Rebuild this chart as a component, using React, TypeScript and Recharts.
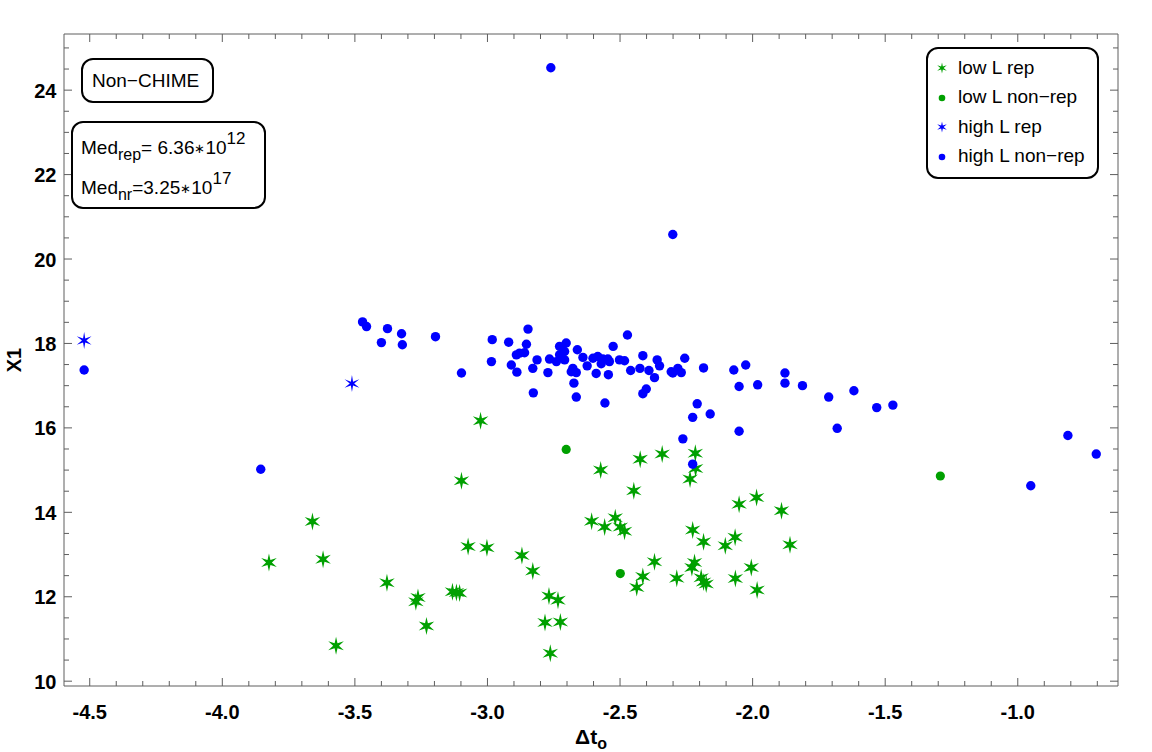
import React from 'react';
import { ScatterChart, Scatter, XAxis, YAxis, Legend } from 'recharts';

// low L rep (green stars)
const lowRepX = [
  -3.026, -3.098, -3.66, -3.824, -3.62, -3.379, -3.27, -3.262, -3.23, -3.571,
  -3.073, -3.002, -3.132, -3.117, -3.105, -2.87, -2.829, -2.768, -2.734, -2.783,
  -2.725, -2.763, -2.573, -2.424, -2.341, -2.216, -2.215, -2.236, -2.448, -2.051,
  -1.985, -1.891, -2.607, -2.558, -2.518, -2.499, -2.483, -2.226, -2.185, -2.103,
  -2.066, -1.859, -2.37, -2.414, -2.437, -2.286, -2.219, -2.229, -2.194, -2.185,
  -2.175, -2.065, -2.005, -1.983,
];
const lowRepY = [
  16.17, 14.75, 13.78, 12.81, 12.89, 12.33, 11.88, 11.98, 11.31, 10.84,
  13.19, 13.16, 12.12, 12.1, 12.09, 12.98, 12.61, 12.02, 11.92, 11.39,
  11.4, 10.66, 15.0, 15.26, 15.38, 15.4, 15.04, 14.79, 14.51, 14.19,
  14.35, 14.04, 13.79, 13.65, 13.87, 13.65, 13.55, 13.58, 13.3, 13.21,
  13.41, 13.23, 12.83, 12.48, 12.22, 12.44, 12.81, 12.69, 12.45, 12.35,
  12.3, 12.43, 12.69, 12.16,
];

// low L non-rep (green dots)
const lowNonRepX = [-2.703, -2.499, -1.292];
const lowNonRepY = [15.49, 12.55, 14.86];

// high L rep (blue stars)
const highRepX = [-4.521, -3.511];
const highRepY = [18.07, 17.05];

// high L non-rep (blue dots)
const highNonRepX = [
  -4.521, -3.855, -2.761, -2.301, -3.471, -3.456, -3.377, -3.324, -3.4, -3.321,
  -3.196, -3.098, -2.982, -2.985, -2.92, -2.847, -2.853, -2.891, -2.879, -2.86,
  -2.91, -2.889, -2.813, -2.829, -2.772, -2.827, -2.766, -2.728, -2.703, -2.709,
  -2.728, -2.709, -2.74, -2.661, -2.684, -2.665, -2.678, -2.674, -2.665, -2.64,
  -2.624, -2.602, -2.584, -2.565, -2.571, -2.546, -2.54, -2.59, -2.544, -2.557,
  -2.526, -2.502, -2.483, -2.472, -2.46, -2.425, -2.414, -2.391, -2.37, -2.36,
  -2.351, -2.414, -2.401, -2.307, -2.282, -2.269, -2.301, -2.256, -2.185, -2.209,
  -2.226, -2.16, -2.263, -2.226, -2.071, -2.026, -2.051, -1.981, -1.878, -1.878,
  -1.812, -1.713, -2.051, -1.681, -1.618, -1.532, -1.471, -0.951, -0.811, -0.704,
];
const highNonRepY = [
  17.37, 15.02, 24.53, 20.58, 18.51, 18.4, 18.35, 18.23, 18.02, 17.97,
  18.16, 17.3, 18.09, 17.57, 18.03, 18.34, 17.98, 17.73, 17.77, 17.78,
  17.49, 17.32, 17.61, 17.41, 17.31, 16.83, 17.63, 17.93, 18.01, 17.81,
  17.73, 17.61, 17.57, 17.85, 17.33, 17.31, 17.41, 17.06, 16.73, 17.67,
  17.47, 17.65, 17.69, 17.63, 17.52, 17.63, 17.57, 17.29, 17.26, 16.59,
  17.93, 17.61, 17.59, 18.2, 17.36, 17.41, 17.71, 17.36, 17.19, 17.61,
  17.47, 16.81, 16.92, 17.33, 17.41, 17.31, 17.3, 17.65, 17.42, 16.57,
  16.25, 16.33, 15.74, 15.14, 17.37, 17.49, 16.98, 17.02, 17.3, 17.06,
  17.0, 16.73, 15.92, 15.99, 16.88, 16.48, 16.54, 14.63, 15.82, 15.38,
];

const SERIES_NAMES = ['low L rep', 'low L non−rep', 'high L rep', 'high L non−rep'];

const X_MAJOR = [-4.5, -4, -3.5, -3, -2.5, -2, -1.5, -1];
const X_LABELS = ['-4.5', '-4.0', '-3.5', '-3.0', '-2.5', '-2.0', '-1.5', '-1.0'];
const Y_MAJOR = [10, 12, 14, 16, 18, 20, 22, 24];
const Y_LABELS = ['10', '12', '14', '16', '18', '20', '22', '24'];

// minor ticks every 0.1 on x, every 0.5 on y
const X_TICKS: number[] = [];
for (let i = 0; i <= 38; i++) X_TICKS.push(Math.round((-4.5 + i * 0.1) * 10) / 10);
const Y_TICKS: number[] = [];
for (let i = 0; i <= 30; i++) Y_TICKS.push(10 + i * 0.5);

const X_DOMAIN = [-4.597, -0.622];
const Y_DOMAIN = [9.886, 25.33];

const GREEN = '#00a000';
const BLUE = '#0000ff';
const FRAME = '#5e5e5e';
const FONT = '"Liberation Sans", Arial, sans-serif';

const toPoints = (xs: number[], ys: number[]) => xs.map((x, i) => ({ x, y: ys[i] }));

const majorIndex = (list: number[], v: number) => list.findIndex((m) => Math.abs(m - v) < 1e-6);

function starPath(cx: number, cy: number, R: number, r: number) {
  let d = '';
  for (let i = 0; i < 12; i++) {
    const a = ((-90 + i * 30) * Math.PI) / 180;
    const rad = i % 2 === 0 ? R : r;
    d += (i === 0 ? 'M' : 'L') + (cx + rad * Math.cos(a)).toFixed(2) + ',' + (cy + rad * Math.sin(a)).toFixed(2);
  }
  return d + 'Z';
}

const greenStar = (p: any) => <path d={starPath(p.cx, p.cy, 9, 2.9)} fill={GREEN} />;
const blueStar = (p: any) => <path d={starPath(p.cx, p.cy, 8.5, 2.2)} fill={BLUE} />;
const greenDot = (p: any) => <circle cx={p.cx} cy={p.cy} r={4.6} fill={GREEN} />;
const blueDot = (p: any) => <circle cx={p.cx} cy={p.cy} r={4.7} fill={BLUE} />;
const noShape = () => <g />;

function BottomTick({ x, y, payload }: any) {
  const k = majorIndex(X_MAJOR, payload.value);
  return (
    <g>
      <line x1={x} x2={x} y1={y} y2={y - (k >= 0 ? 8 : 5)} stroke={FRAME} />
      {k >= 0 && (
        <text x={x} y={y + 33} textAnchor="middle" fontFamily={FONT} fontWeight="bold" fontSize={20} fill="#000">
          {X_LABELS[k]}
        </text>
      )}
    </g>
  );
}

function TopTick({ x, y, payload }: any) {
  const k = majorIndex(X_MAJOR, payload.value);
  return <line x1={x} x2={x} y1={y} y2={y + (k >= 0 ? 8 : 5)} stroke={FRAME} />;
}

function LeftTick({ x, y, payload }: any) {
  const k = majorIndex(Y_MAJOR, payload.value);
  return (
    <g>
      <line x1={x} x2={x + (k >= 0 ? 8 : 5)} y1={y} y2={y} stroke={FRAME} />
      {k >= 0 && (
        <text x={x - 7.5} y={y + 7.5} textAnchor="end" fontFamily={FONT} fontWeight="bold" fontSize={20} fill="#000">
          {Y_LABELS[k]}
        </text>
      )}
    </g>
  );
}

function RightTick({ x, y, payload }: any) {
  const k = majorIndex(Y_MAJOR, payload.value);
  return <line x1={x} x2={x - (k >= 0 ? 8 : 5)} y1={y} y2={y} stroke={FRAME} />;
}

const xTitle = (props: any) => {
  const vb = props.viewBox || {};
  const cx = vb.x + vb.width / 2;
  return (
    <text x={cx} y={744} textAnchor="middle" fontFamily={FONT} fontWeight="bold" fontSize={21} fill="#000">
      Δt<tspan fontSize={16} dy={5}>o</tspan>
    </text>
  );
};

const yTitle = (props: any) => {
  const vb = props.viewBox || {};
  const cy = vb.y + vb.height / 2;
  return (
    <text x={21} y={cy} transform={`rotate(-90 21 ${cy})`} textAnchor="middle" fontFamily={FONT} fontWeight="bold" fontSize={20} fill="#000">
      X1
    </text>
  );
};

function LegendBox({ payload }: any) {
  const items = (payload || []).filter((e: any) => e.type !== 'none' && SERIES_NAMES.includes(e.value));
  return (
    <div
      style={{
        boxSizing: 'border-box',
        width: 173,
        height: 132,
        border: '2px solid #000',
        borderRadius: 12,
        background: '#fff',
        paddingTop: 4,
        fontFamily: FONT,
        fontSize: 19,
        color: '#000',
      }}
    >
      {items.map((entry: any) => (
        <div key={entry.value} style={{ height: 29.5, display: 'flex', alignItems: 'center' }}>
          <svg width={28} height={20} style={{ marginLeft: 3, flex: 'none' }}>
            {entry.type === 'star' ? (
              <path d={starPath(11, 10, 5.5, 1.7)} fill={entry.color} />
            ) : (
              <circle cx={11} cy={11} r={3.3} fill={entry.color} />
            )}
          </svg>
          <span style={{ whiteSpace: 'nowrap', marginLeft: -1 }}>{entry.value}</span>
        </div>
      ))}
    </div>
  );
}

const boxStyle: React.CSSProperties = {
  position: 'absolute',
  boxSizing: 'border-box',
  border: '2px solid #000',
  borderRadius: 12,
  background: '#fff',
  fontFamily: FONT,
  fontSize: 19,
  color: '#000',
  whiteSpace: 'nowrap',
};

const supStyle: React.CSSProperties = { fontSize: 17, position: 'relative', top: -10 };
const subStyle: React.CSSProperties = { fontSize: 16, position: 'relative', top: 6 };
const astStyle: React.CSSProperties = { fontSize: 13, position: 'relative', top: -1 };

export default function App() {
  return (
    <div style={{ position: 'relative', width: 1152, height: 752, background: '#fff' }}>
      <style>{'body{margin:0;background:#fff}'}</style>
      <ScatterChart width={1152} height={752} margin={{ top: 33, right: 33, bottom: 0, left: 0 }}>
        <XAxis
          xAxisId="b"
          type="number"
          dataKey="x"
          orientation="bottom"
          domain={X_DOMAIN}
          allowDataOverflow
          ticks={X_TICKS}
          interval={0}
          tick={<BottomTick />}
          tickLine={false}
          tickSize={0}
          tickMargin={0}
          height={66}
          axisLine={{ stroke: FRAME }}
          label={xTitle}
        />
        <XAxis
          xAxisId="t"
          type="number"
          dataKey="x"
          orientation="top"
          domain={X_DOMAIN}
          allowDataOverflow
          ticks={X_TICKS}
          interval={0}
          tick={<TopTick />}
          tickLine={false}
          tickSize={0}
          tickMargin={0}
          height={1}
          axisLine={{ stroke: FRAME }}
        />
        <YAxis
          yAxisId="l"
          type="number"
          dataKey="y"
          orientation="left"
          domain={Y_DOMAIN}
          allowDataOverflow
          ticks={Y_TICKS}
          interval={0}
          tick={<LeftTick />}
          tickLine={false}
          tickSize={0}
          tickMargin={0}
          width={64}
          axisLine={{ stroke: FRAME }}
          label={yTitle}
        />
        <YAxis
          yAxisId="r"
          type="number"
          dataKey="y"
          orientation="right"
          domain={Y_DOMAIN}
          allowDataOverflow
          ticks={Y_TICKS}
          interval={0}
          tick={<RightTick />}
          tickLine={false}
          tickSize={0}
          tickMargin={0}
          width={1}
          axisLine={{ stroke: FRAME }}
        />
        <Legend
          layout="vertical"
          align="center"
          verticalAlign="middle"
          itemSorter={(item: any) => SERIES_NAMES.indexOf(item.value)}
          content={<LegendBox />}
          wrapperStyle={{ position: 'absolute', left: 926, top: 47, width: 173, height: 132 }}
        />
        {/* invisible series so the mirrored top/right frame axes get drawn */}
        <Scatter
          xAxisId="t"
          yAxisId="r"
          data={toPoints(lowNonRepX, lowNonRepY)}
          legendType="none"
          shape={noShape}
          isAnimationActive={false}
        />
        <Scatter
          name={SERIES_NAMES[0]}
          xAxisId="b"
          yAxisId="l"
          data={toPoints(lowRepX, lowRepY)}
          fill={GREEN}
          legendType="star"
          shape={greenStar}
          isAnimationActive={false}
        />
        <Scatter
          name={SERIES_NAMES[1]}
          xAxisId="b"
          yAxisId="l"
          data={toPoints(lowNonRepX, lowNonRepY)}
          fill={GREEN}
          legendType="circle"
          shape={greenDot}
          isAnimationActive={false}
        />
        <Scatter
          name={SERIES_NAMES[2]}
          xAxisId="b"
          yAxisId="l"
          data={toPoints(highRepX, highRepY)}
          fill={BLUE}
          legendType="star"
          shape={blueStar}
          isAnimationActive={false}
        />
        <Scatter
          name={SERIES_NAMES[3]}
          xAxisId="b"
          yAxisId="l"
          data={toPoints(highNonRepX, highNonRepY)}
          fill={BLUE}
          legendType="circle"
          shape={blueDot}
          isAnimationActive={false}
        />
      </ScatterChart>

      <div style={{ ...boxStyle, left: 81, top: 58, width: 133, height: 45, paddingLeft: 9, lineHeight: '41px' }}>
        Non−CHIME
      </div>

      <div style={{ ...boxStyle, left: 71, top: 121, width: 195, height: 88, paddingLeft: 8, paddingTop: 14 }}>
        <div style={{ height: 40, lineHeight: '22px' }}>
          Med<span style={subStyle}>rep</span>= 6.36<span style={astStyle}>∗</span>10
          <span style={supStyle}>12</span>
        </div>
        <div style={{ lineHeight: '22px' }}>
          Med<span style={subStyle}>nr</span>=3.25<span style={astStyle}>∗</span>10
          <span style={supStyle}>17</span>
        </div>
      </div>
    </div>
  );
}
